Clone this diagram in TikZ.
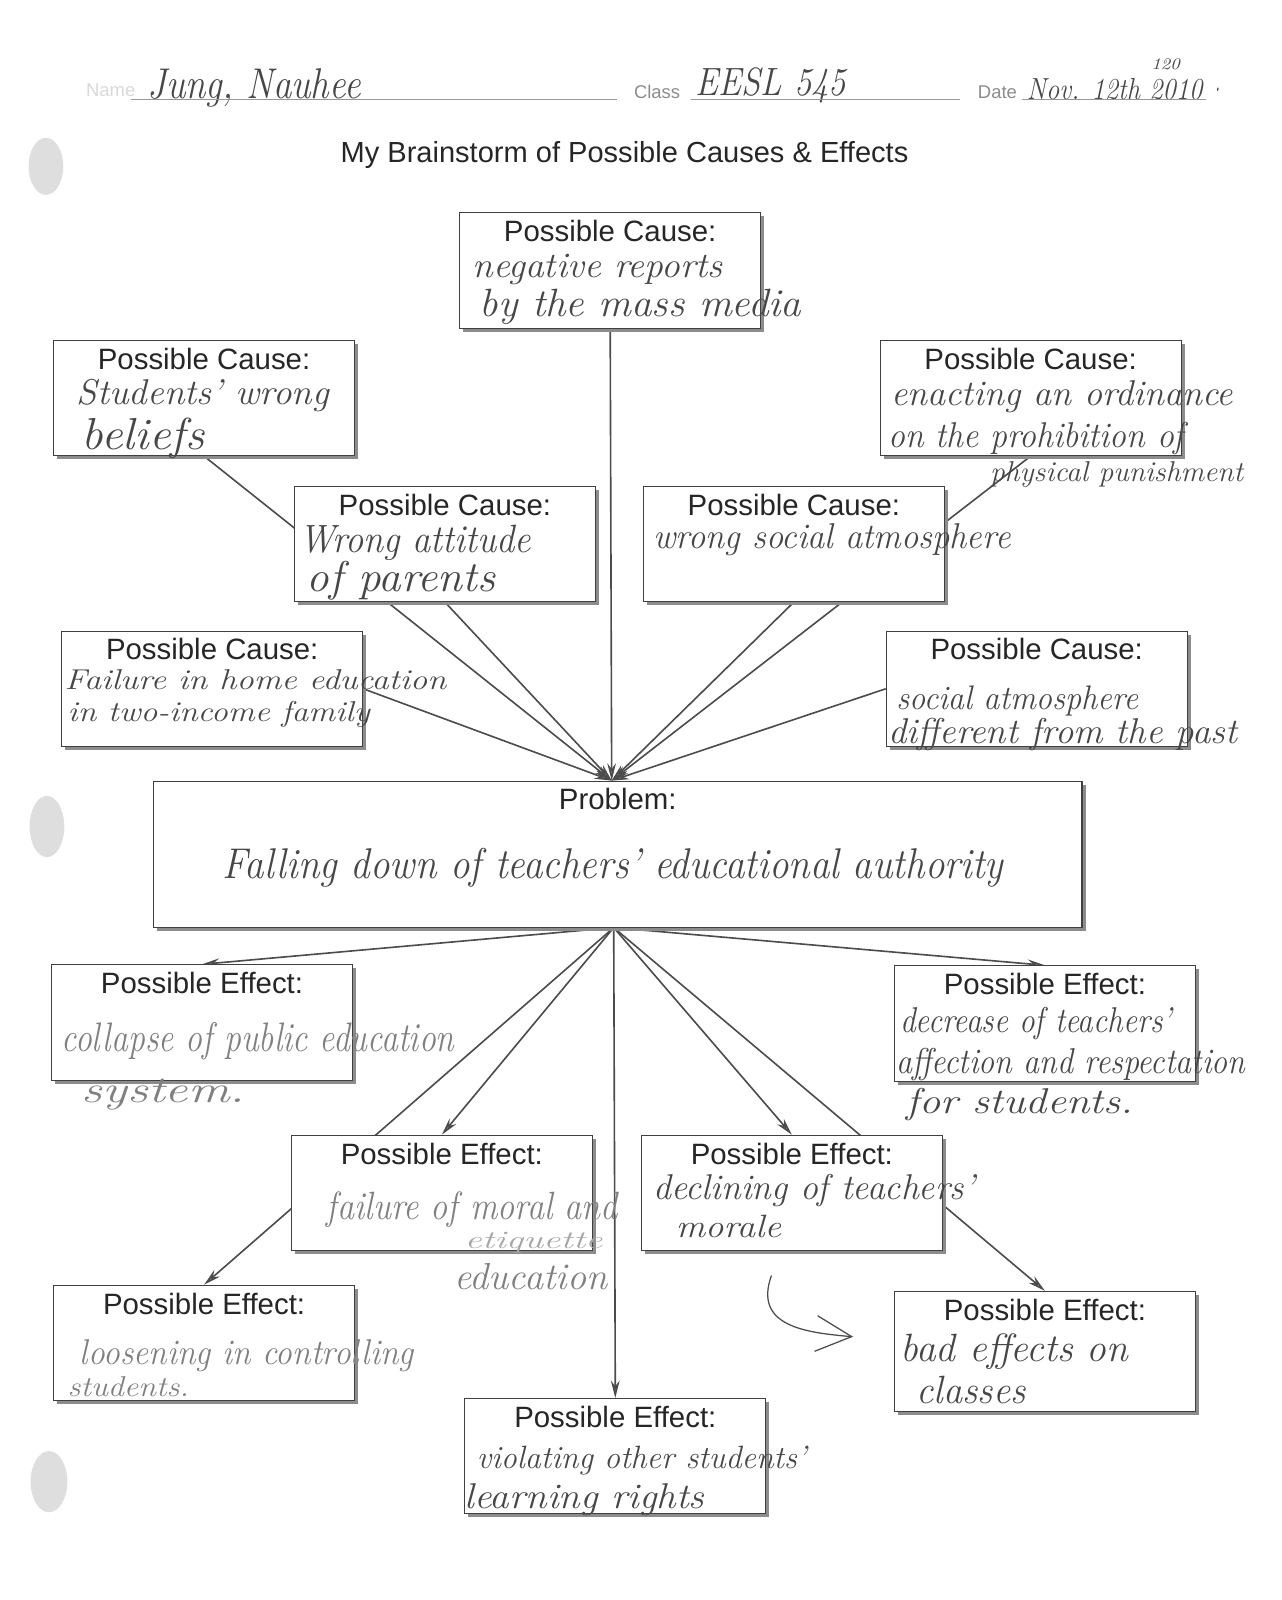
\documentclass[tikz,border=0pt]{standalone}
\usepackage{fontspec}
\usepackage{graphicx}
\newfontfamily\printfont{Liberation Sans}
\usetikzlibrary{arrows.meta,shadows,backgrounds}
\newdimen\hwu \hwu=0.02cm
\newcommand{\hw}[3][22]{\resizebox{#2\hwu}{\height}{\fontsize{#1}{#1}\selectfont\itshape #3}}

\begin{document}
\begin{tikzpicture}[x=0.02cm,y=-0.02cm,
  box/.style={rectangle,draw=black!75,line width=0.6pt,fill=white,inner sep=0pt,
    anchor=north west,minimum width=5.9cm,minimum height=2.26cm,
    drop shadow={shadow xshift=0.07cm,shadow yshift=-0.07cm,fill=black!45,opacity=1}},
  lbl/.style={anchor=north,yshift=-0.15cm,inner sep=0pt,text=black!85,
    font=\printfont\fontsize{16.4}{18}\selectfont},
  cause/.style={box,label={[lbl]north:{Possible Cause:}}},
  effect/.style={box,label={[lbl]north:{Possible Effect:}}},
  print/.style={anchor=west,inner sep=0pt,text=black!45,font=\printfont\fontsize{10.3}{12}\selectfont},
  hand/.style={anchor=west,inner sep=0pt,text=black!72},
  pencil/.style={hand,text=black!50},
  link/.style={draw=black!70,line width=0.9pt},
  arr/.style={link,-{Stealth[length=0.34cm,width=0.17cm,fill=black!50]}}]
\useasboundingbox (0,0) rectangle (1256,1568);

\fill[black!13] (45,163) ellipse [x radius=0.34cm,y radius=0.56cm];
\fill[black!13] (46,810) ellipse [x radius=0.34cm,y radius=0.6cm];
\fill[black!13] (48,1452) ellipse [x radius=0.36cm,y radius=0.6cm];

% heading
\path (84,88) node[print,text=black!15] (nm) {Name};
\path (144,86) node[hand] (who) {\hw[24]{209}{Jung, Nauhee}};
\draw[black!40,line width=0.5pt] (128,97) -- (605,97);
\path (621,90) node[print] (cl) {Class};
\path (681,84) node[hand] (cls) {\hw[22]{148}{EESL 545}};
\draw[black!40,line width=0.5pt] (677,97) -- (941,97);
\path (958,90) node[print] (dt) {Date};
\path (1006,87) node[hand] (day) {\hw[17]{172}{Nov. 12th 2010}};
\path (1128,63) node[hand] (pg) {\hw[9]{28}{120}};
\path (1191,88) node[hand] (dot) {\hw[20]{5}{.}};
\draw[black!40,line width=0.5pt] (1002,97) -- (1182,97);

\path (612,152) node[text=black!85,font=\printfont\fontsize{16.2}{18}\selectfont] (ttl)
  {My Brainstorm of Possible Causes \& Effects};

% causes
\path (450,208) node[cause] (neg) {};
\path (52,333) node[cause] (stu) {};
\path (862,333) node[cause] (ord) {};
\path (288,476) node[cause] (par) {};
\path (630,476) node[cause] (soc) {};
\path (60,618) node[cause] (home) {};
\path (868,618) node[cause] (past) {};

\path (150,765) node[box,minimum width=18.2cm,minimum height=2.86cm,
  label={[lbl]north:{Problem:}}] (prob) {};
\coordinate (top) at ([xshift=-0.12cm]prob.north);
\coordinate (bot) at ([xshift=-0.08cm]prob.south);

% effects
\path (50,945) node[effect] (pub) {};
\path (876,946) node[effect] (aff) {};
\path (285,1112) node[effect] (mor) {};
\path (628,1112) node[effect] (mora) {};
\path (52,1259) node[effect] (ctrl) {};
\path (876,1265) node[effect,minimum height=2.36cm] (lsn) {};
\path (455,1370) node[effect] (rig) {};

\begin{scope}[on background layer]
\fill[white] (0,0) rectangle (1256,1568);
\draw[arr] (neg.south) -- (top);
\draw[arr] (stu.south) -- (top);
\draw[arr] (par.south) -- (top);
\draw[arr] (home.east) -- (top);
\draw[arr] (ord.south) -- (top);
\draw[arr] (soc.south) -- (top);
\draw[arr] (past.west) -- (top);
\draw[arr] (bot) -- (pub.north);
\draw[arr] (bot) -- (aff.north);
\draw[arr] (bot) -- (mor.north);
\draw[arr] (bot) -- (ctrl.north);
\draw[arr] (bot) -- (mora.north);
\draw[arr] (bot) -- (lsn.north);
\draw[arr] (bot) -- (rig.north);
\end{scope}

% handwriting
\path (463,264) node[hand] (neg1) {\hw[20]{245}{negative reports}};
\path (470,301) node[hand] (neg2) {\hw[22]{315}{by the mass media}};
\path (75,388) node[hand] (stu1) {\hw[20]{247}{Students' wrong}};
\path (80,430) node[hand] (stu2) {\hw[25]{120}{beliefs}};
\path (873,389) node[hand] (ord1) {\hw[20]{335}{enacting an ordinance}};
\path (870,430) node[hand] (ord2) {\hw[20]{290}{on the prohibition of}};
\path (970,465) node[hand] (ord3) {\hw[16]{248}{physical punishment}};
\path (293,532) node[hand] (par1) {\hw[22]{227}{Wrong attitude}};
\path (300,569) node[hand] (par2) {\hw[24]{185}{of parents}};
\path (640,529) node[hand] (soc1) {\hw[20]{350}{wrong social atmosphere}};
\path (63,666) node[hand] (home1) {\hw[16]{374}{Failure in home education}};
\path (66,700) node[hand] (home2) {\hw[16]{296}{in two-income family}};
\path (878,687) node[hand] (past1) {\hw[19]{237}{social atmosphere}};
\path (870,720) node[hand] (past2) {\hw[20]{342}{different from the past}};
\path (218,850) node[hand] (prob1) {\hw[24]{765}{Falling down of teachers' educational authority}};
\path (60,1020) node[pencil] (pub1) {\hw[23]{385}{collapse of public education}};
\path (80,1073) node[pencil] (pub2) {\hw[21]{160}{system.}};
\path (882,1003) node[hand] (aff1) {\hw[20]{266}{decrease of teachers'}};
\path (878,1043) node[hand] (aff2) {\hw[20]{342}{affection and respectation}};
\path (888,1082) node[hand] (aff3) {\hw[20]{222}{for students.}};
\path (320,1185) node[pencil] (mor1) {\hw[22]{285}{failure of moral and}};
\path (455,1218) node[pencil,text=black!35] (mor2) {\hw[14]{135}{etiquette}};
\path (445,1251) node[pencil] (mor3) {\hw[21]{150}{education}};
\path (640,1167) node[hand] (mora1) {\hw[20]{315}{declining of teachers'}};
\path (662,1202) node[hand] (mora2) {\hw[18]{103}{morale}};
\path (78,1329) node[pencil] (ctrl1) {\hw[20]{327}{loosening in controlling}};
\path (66,1359) node[pencil] (ctrl2) {\hw[16]{119}{students.}};
\path (882,1325) node[hand] (lsn1) {\hw[22]{223}{bad effects on}};
\path (898,1362) node[hand] (lsn2) {\hw[22]{107}{classes}};
\path (467,1431) node[hand] (rig1) {\hw[18]{323}{violating other students'}};
\path (455,1470) node[hand] (rig2) {\hw[20]{235}{learning rights}};

\coordinate (curlA) at (756,1250);
\coordinate (curlB) at (836,1310);
\draw[black!70,line width=0.7pt,-{Straight Barb[length=0.7cm,width=0.7cm]}]
  (curlA) .. controls (738,1300) and (790,1306) .. (curlB);
\end{tikzpicture}
\end{document}
